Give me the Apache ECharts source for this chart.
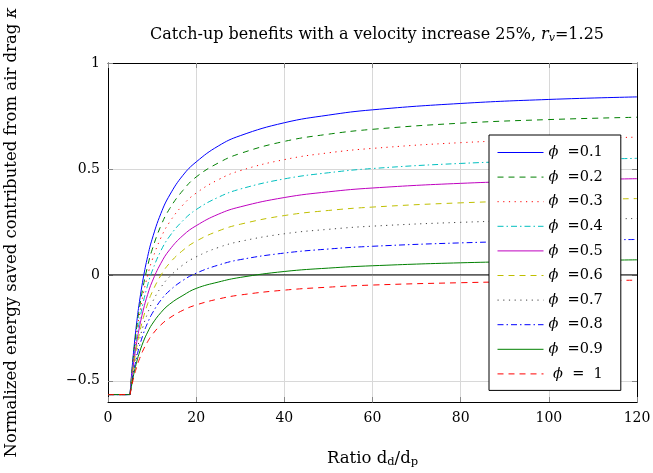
<!DOCTYPE html>
<html>
<head>
<meta charset="utf-8">
<script src="https://cdn.jsdelivr.net/npm/echarts@6/dist/echarts.min.js"></script>
<style>
  html, body { margin: 0; padding: 0; background: #fff; }
  #chart { width: 653px; height: 473px; }
</style>
</head>
<body>
<div id="chart"></div>
<script>
// x 轴数据 (d_d / d_p)
const ratio = [0, 5, 5.5, 6, 6.5, 7, 8, 9, 10, 12, 14, 17, 20, 25, 30, 40, 50, 60, 80, 100, 120]
// 各 phi 的数值
const phi01 = [-0.565, -0.565, -0.432, -0.321, -0.227, -0.146, -0.015, 0.087, 0.168, 0.290, 0.377, 0.470, 0.533, 0.608, 0.657, 0.718, 0.754, 0.779, 0.809, 0.828, 0.840]
const phi02 = [-0.565, -0.565, -0.441, -0.337, -0.250, -0.175, -0.053, 0.042, 0.118, 0.232, 0.313, 0.399, 0.462, 0.528, 0.573, 0.630, 0.664, 0.687, 0.716, 0.733, 0.744]
const phi03 = [-0.565, -0.565, -0.450, -0.354, -0.272, -0.203, -0.090, -0.002, 0.069, 0.175, 0.250, 0.330, 0.386, 0.449, 0.492, 0.544, 0.576, 0.597, 0.624, 0.639, 0.650]
const phi04 = [-0.565, -0.565, -0.459, -0.371, -0.296, -0.233, -0.129, -0.048, 0.017, 0.114, 0.183, 0.256, 0.308, 0.366, 0.405, 0.453, 0.482, 0.502, 0.526, 0.540, 0.550]
const phi05 = [-0.565, -0.565, -0.468, -0.388, -0.320, -0.261, -0.166, -0.092, -0.033, 0.055, 0.119, 0.186, 0.232, 0.286, 0.321, 0.365, 0.392, 0.410, 0.432, 0.445, 0.454]
const phi06 = [-0.565, -0.565, -0.477, -0.404, -0.342, -0.289, -0.203, -0.136, -0.082, -0.002, 0.056, 0.116, 0.159, 0.207, 0.239, 0.280, 0.304, 0.320, 0.340, 0.352, 0.360]
const phi07 = [-0.565, -0.565, -0.486, -0.420, -0.365, -0.317, -0.240, -0.180, -0.131, -0.059, -0.008, 0.047, 0.085, 0.129, 0.158, 0.194, 0.215, 0.230, 0.248, 0.259, 0.266]
const phi08 = [-0.565, -0.565, -0.496, -0.438, -0.389, -0.347, -0.279, -0.226, -0.183, -0.119, -0.074, -0.026, 0.008, 0.046, 0.072, 0.103, 0.122, 0.135, 0.151, 0.161, 0.167]
const phi09 = [-0.565, -0.565, -0.505, -0.454, -0.412, -0.375, -0.316, -0.270, -0.233, -0.178, -0.138, -0.097, -0.064, -0.034, -0.012, 0.016, 0.032, 0.043, 0.057, 0.065, 0.071]
const phi10 = [-0.565, -0.565, -0.514, -0.471, -0.435, -0.404, -0.354, -0.315, -0.283, -0.236, -0.203, -0.167, -0.142, -0.114, -0.095, -0.072, -0.058, -0.048, -0.037, -0.030, -0.025]
const legendNames = ['0.1', '0.2', '0.3', '0.4', '0.5', '0.6', '0.7', '0.8', '0.9', '1']
const yTicks = [-0.5, 0, 0.5, 1]

const serif = 'DejaVu Serif'
const allData = [phi01, phi02, phi03, phi04, phi05, phi06, phi07, phi08, phi09, phi10]
// 线型
const styles = [
  { color: '#0000ff', type: 'solid' },
  { color: '#008000', type: [6, 5] },
  { color: '#ff0000', type: [1.2, 4.5] },
  { color: '#00bfbf', type: [6, 3, 1.5, 3] },
  { color: '#bf00bf', type: 'solid' },
  { color: '#bfbf00', type: [6, 5] },
  { color: '#404040', type: [1.2, 4.5] },
  { color: '#0000ff', type: [6, 3, 1.5, 3] },
  { color: '#008000', type: 'solid' },
  { color: '#ff0000', type: [6, 5] }
]

const seriesArrs = allData.map((vals, index) => {
  const pts = ratio.map((x, i) => [x, vals[i]])
  // 平台段与曲线段分开平滑, 避免拐角处过冲
  const data = [pts[0], pts[1], [pts[1][0], '-'], ...pts.slice(1)]
  return {
    name: legendNames[index],
    type: 'line',
    data: data,
    showSymbol: false,
    symbol: 'none',
    smooth: 0.45,
    connectNulls: false,
    z: 3,
    lineStyle: {
      width: 1,
      color: styles[index].color,
      type: styles[index].type
    },
    itemStyle: { color: styles[index].color }
  }
})
// y = 0 的黑线
seriesArrs.unshift({
  name: 'zero',
  type: 'line',
  data: [[0, 0], [120, 0]],
  symbol: 'none',
  silent: true,
  z: 2,
  lineStyle: { width: 1, color: '#000' }
})

const tickFmt = (v) => (v < 0 ? '\u2212' + Math.abs(v) : String(v))
const axisCommon = {
  axisLine: { show: true, onZero: false, lineStyle: { color: '#000', width: 1 } },
  axisTick: { show: true, inside: true, length: 5, lineStyle: { color: '#888' } }
}

const myChart = echarts.init(document.getElementById('chart'))
const option = {
  animation: false,
  title: {
    text: '{n|Catch-up benefits with a velocity increase 25%, }{i|r}{s|v}{n|=1.25}',
    left: 372,
    top: 21,
    textAlign: 'center',
    textStyle: {
      fontFamily: serif,
      fontSize: 16,
      fontWeight: 'normal',
      color: '#000',
      rich: {
        n: { fontFamily: serif, fontSize: 16, color: '#000' },
        i: { fontFamily: serif, fontStyle: 'italic', fontSize: 16, color: '#000' },
        s: { fontFamily: serif, fontStyle: 'italic', fontSize: 11, color: '#000', padding: [7, 0, 0, 0] }
      }
    }
  },
  legend: {
    data: legendNames,
    orient: 'vertical',
    left: 489,
    top: 135,
    padding: [10, 18, 9, 8],
    itemWidth: 46,
    itemHeight: 14,
    itemGap: 9.6,
    backgroundColor: '#fff',
    borderColor: '#000',
    borderWidth: 1,
    borderRadius: 0,
    itemStyle: { opacity: 0 },
    lineStyle: { width: 1 },
    formatter: (name) => (name === '1' ? '{n| }{i|\u03d5}{n|  =  1}' : '{i|\u03d5}{n|  =' + name + '}'),
    textStyle: {
      fontFamily: serif,
      fontSize: 14.5,
      color: '#000',
      rich: {
        n: { fontFamily: serif, fontSize: 14.5, color: '#000' },
        i: { fontFamily: serif, fontStyle: 'italic', fontSize: 14.5, color: '#000' }
      }
    }
  },
  grid: { left: 108, right: 16, top: 63, bottom: 71, outerBoundsMode: 'none', containLabel: false },
  xAxis: [
    {
      type: 'value',
      min: 0,
      max: 120,
      interval: 20,
      position: 'bottom',
      name: '{n|Ratio d}{s|d}{n|/d}{s|p}',
      nameLocation: 'middle',
      nameGap: 47,
      nameTextStyle: {
        fontFamily: serif,
        fontSize: 16.5,
        color: '#000',
        rich: {
          n: { fontFamily: serif, fontSize: 16.5, color: '#000' },
          s: { fontFamily: serif, fontSize: 11.5, color: '#000', padding: [7, 0, 0, 0] }
        }
      },
      ...axisCommon,
      axisLabel: { margin: 9, fontFamily: serif, fontSize: 14, color: '#000' },
      splitLine: { show: true, lineStyle: { color: '#d8d8d8', width: 1 } }
    },
    {
      type: 'value',
      min: 0,
      max: 120,
      interval: 20,
      position: 'top',
      ...axisCommon,
      axisLabel: { show: false },
      splitLine: { show: false }
    }
  ],
  yAxis: [
    {
      type: 'value',
      min: -0.6,
      max: 1,
      position: 'left',
      name: '{n|Normalized energy saved contributed from air drag }{i|\u03ba}',
      nameLocation: 'middle',
      nameGap: 88,
      nameTextStyle: {
        fontFamily: serif,
        fontSize: 16.5,
        color: '#000',
        rich: {
          n: { fontFamily: serif, fontSize: 16.5, color: '#000' },
          i: { fontFamily: serif, fontStyle: 'italic', fontSize: 16.5, color: '#000' }
        }
      },
      axisLine: axisCommon.axisLine,
      axisTick: { ...axisCommon.axisTick, customValues: yTicks },
      axisLabel: { margin: 8, fontFamily: serif, fontSize: 14, color: '#000', customValues: yTicks, formatter: tickFmt },
      splitLine: { show: true, lineStyle: { color: '#d8d8d8', width: 1 } }
    },
    {
      type: 'value',
      min: -0.6,
      max: 1,
      position: 'right',
      axisLine: axisCommon.axisLine,
      axisTick: { ...axisCommon.axisTick, customValues: yTicks },
      axisLabel: { show: false, customValues: yTicks },
      splitLine: { show: false }
    }
  ],
  series: seriesArrs
}
myChart.setOption(option)
</script>
</body>
</html>
